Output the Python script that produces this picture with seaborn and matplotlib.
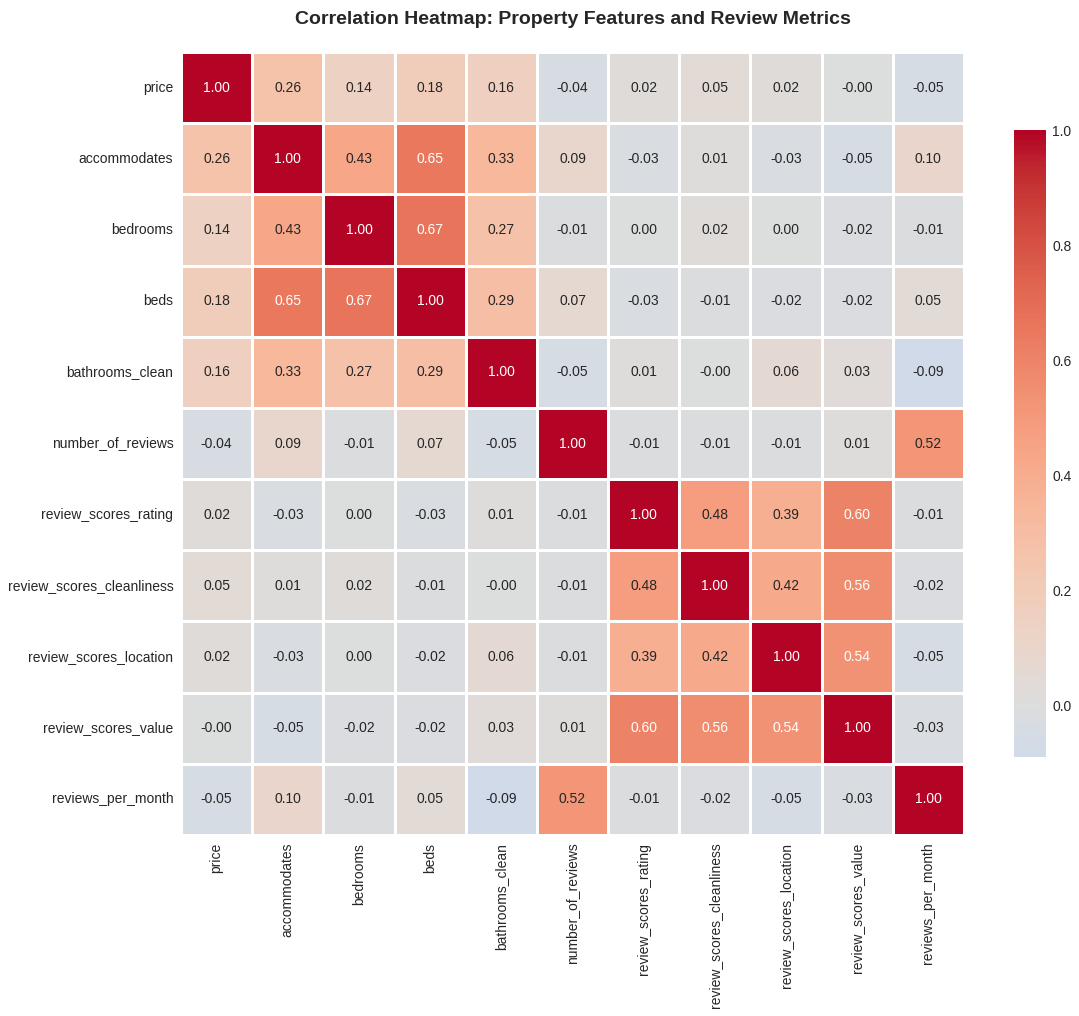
import numpy as np
import pandas as pd
import matplotlib
matplotlib.use("Agg")
import matplotlib.pyplot as plt
import seaborn as sns

labels = ["price", "accommodates", "bedrooms", "beds", "bathrooms_clean",
          "number_of_reviews", "review_scores_rating", "review_scores_cleanliness",
          "review_scores_location", "review_scores_value", "reviews_per_month"]

row_price = [1.00, 0.26, 0.14, 0.18, 0.16, -0.04, 0.02, 0.05, 0.02, -0.00, -0.05]
row_accommodates = [0.26, 1.00, 0.43, 0.65, 0.33, 0.09, -0.03, 0.01, -0.03, -0.05, 0.10]
row_bedrooms = [0.14, 0.43, 1.00, 0.67, 0.27, -0.01, 0.00, 0.02, 0.00, -0.02, -0.01]
row_beds = [0.18, 0.65, 0.67, 1.00, 0.29, 0.07, -0.03, -0.01, -0.02, -0.02, 0.05]
row_bathrooms = [0.16, 0.33, 0.27, 0.29, 1.00, -0.05, 0.01, -0.00, 0.06, 0.03, -0.09]
row_nreviews = [-0.04, 0.09, -0.01, 0.07, -0.05, 1.00, -0.01, -0.01, -0.01, 0.01, 0.52]
row_rating = [0.02, -0.03, 0.00, -0.03, 0.01, -0.01, 1.00, 0.48, 0.39, 0.60, -0.01]
row_clean = [0.05, 0.01, 0.02, -0.01, -0.00, -0.01, 0.48, 1.00, 0.42, 0.56, -0.02]
row_location = [0.02, -0.03, 0.00, -0.02, 0.06, -0.01, 0.39, 0.42, 1.00, 0.54, -0.05]
row_value = [-0.00, -0.05, -0.02, -0.02, 0.03, 0.01, 0.60, 0.56, 0.54, 1.00, -0.03]
row_rpm = [-0.05, 0.10, -0.01, 0.05, -0.09, 0.52, -0.01, -0.02, -0.05, -0.03, 1.00]

corr = pd.DataFrame([row_price, row_accommodates, row_bedrooms, row_beds, row_bathrooms,
                     row_nreviews, row_rating, row_clean, row_location, row_value, row_rpm],
                    index=labels, columns=labels)

sns.set_style("whitegrid")
plt.rcParams['font.family'] = ['Liberation Sans', 'DejaVu Sans']

W, H = 1079, 1016
fig = plt.figure(figsize=(W / 100, H / 100), dpi=100)
ax = fig.add_axes([181 / W, (H - 835) / H, 783 / W, 783 / H])
cax = fig.add_axes([1014 / W, (H - 757) / H, 32 / W, 627 / H])

sns.heatmap(corr, ax=ax, cbar_ax=cax, cmap="coolwarm", center=0, annot=True, fmt=".2f",
            linewidths=1, linecolor="white", square=True,
            annot_kws={"size": 10})

ax.set_title("Correlation Heatmap: Property Features and Review Metrics",
             fontsize=14, fontweight="bold", pad=20)
ax.tick_params(axis="both", labelsize=10, colors="#262626", length=0, pad=5.5)
plt.setp(ax.get_xticklabels(), rotation=90)
plt.setp(ax.get_yticklabels(), rotation=0)
cax.tick_params(labelsize=10, colors="#262626", length=0, pad=4.5)
for s in cax.spines.values():
    s.set_visible(False)

fig.savefig("out.png", dpi=100)
